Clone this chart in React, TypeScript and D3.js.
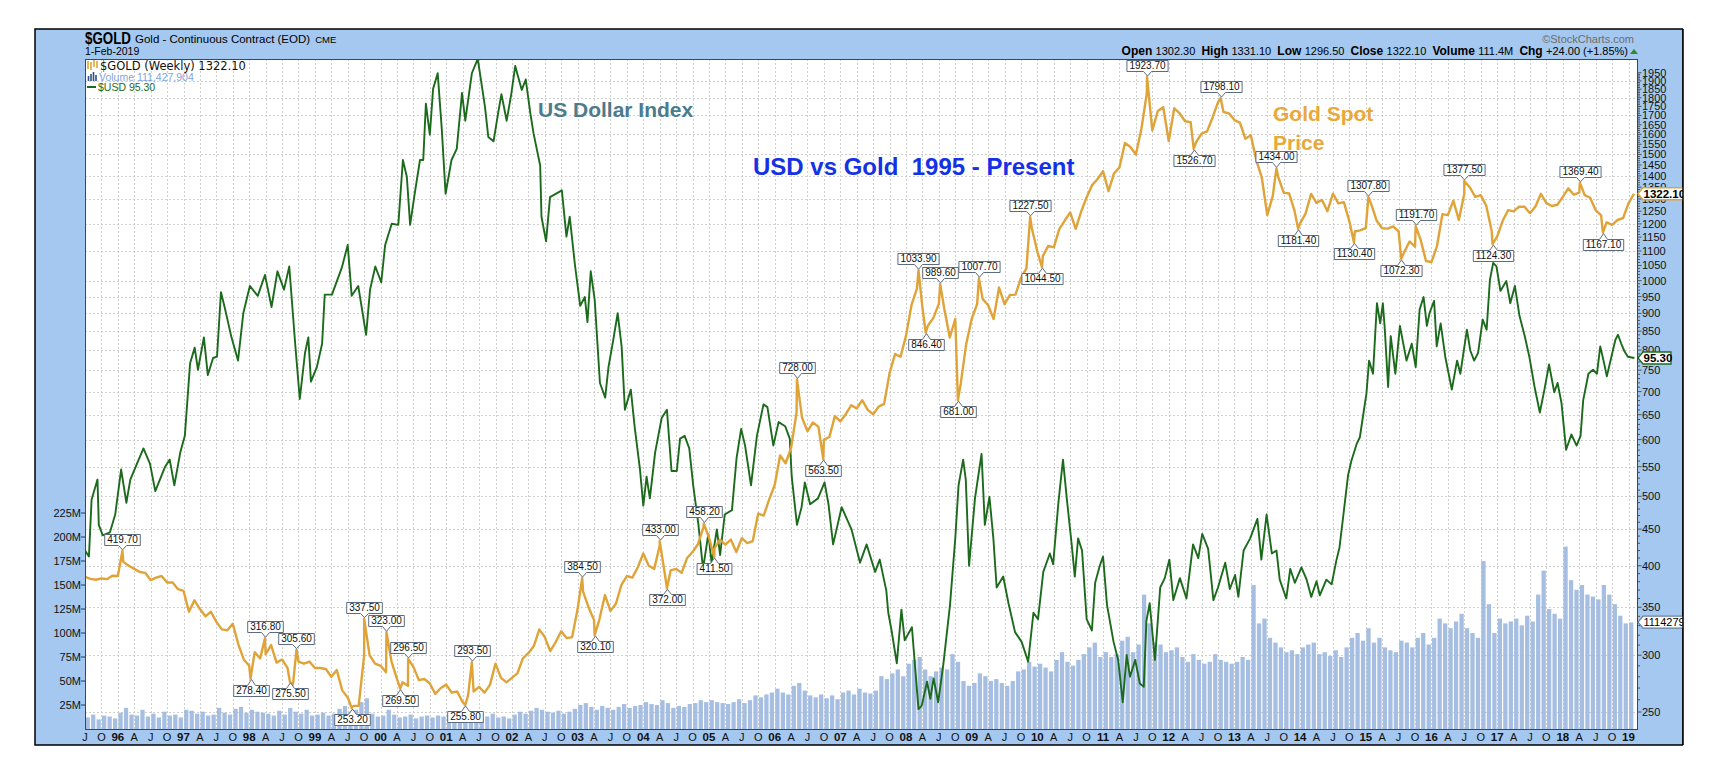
import React, { useEffect, useRef } from "react";
import * as d3 from "d3";

// gold levels at the start of each month, Jul 1995 .. Feb 2019
const goldStart = 1995.5;
const goldMonthly = [
  386, 383.4, 382.4, 384, 383.1, 387.4, 387,
  405, 400, 396, 392, 391, 382, 385, 387, 379, 379, 371, 369,
  345, 358, 348, 340, 345, 334, 326, 325, 332, 311, 296, 290,
  303, 297, 301, 310, 293, 296, 288, 273, 294, 292, 294, 288,
  288, 287, 280, 286, 268, 262, 255, 255, 300, 300, 292, 290,
  284, 294, 278, 275, 272, 289, 277, 278, 274, 265, 270, 273,
  266, 267, 258, 264, 267, 271, 266, 273, 292, 279, 275, 279,
  283, 297, 302, 309, 326, 318, 304, 313, 324, 317, 318, 348,
  368, 350, 336, 337, 364, 346, 354, 376, 387, 385, 398, 416,
  400, 396, 427, 387, 394, 396, 391, 410, 418, 429, 453, 438,
  423, 435, 428, 435, 418, 437, 430, 433, 473, 470, 495, 518,
  570, 556, 584, 654, 644, 616, 634, 625, 600, 605, 647, 636,
  651, 670, 663, 681, 660, 651, 667, 673, 743, 790, 783, 838,
  924, 975, 917, 865, 887, 928, 913, 833, 884, 718, 816, 884,
  928, 943, 924, 884, 978, 927, 955, 956, 1008, 1040, 1182, 1097,
  1082, 1118, 1113, 1180, 1213, 1245, 1181, 1248, 1307, 1359, 1386, 1421,
  1333, 1411, 1439, 1556, 1536, 1500, 1628, 1826, 1620, 1725, 1746, 1566,
  1740, 1711, 1669, 1664, 1560, 1604, 1615, 1688, 1773, 1719, 1712, 1675,
  1662, 1578, 1596, 1472, 1393, 1234, 1312, 1396, 1327, 1323, 1250, 1202,
  1240, 1321, 1284, 1296, 1250, 1322, 1282, 1287, 1210, 1171, 1175, 1184,
  1279, 1212, 1183, 1182, 1190, 1172, 1095, 1134, 1115, 1142, 1065, 1061,
  1116, 1238, 1234, 1293, 1215, 1322, 1350, 1309, 1316, 1273, 1174, 1152,
  1211, 1254, 1249, 1268, 1268, 1242, 1269, 1322, 1283, 1271, 1276, 1309,
  1345, 1318, 1327, 1316, 1305, 1254, 1233, 1206, 1196, 1215, 1222, 1282,
  1322.1,
];

// swing highs / lows tagged on the chart: [year, price, side]
const goldTags: [number, number, string][] = [
  [1996.07, 419.7, "up"], [1998.02, 278.4, "down"], [1998.24, 316.8, "up"],
  [1998.62, 275.5, "down"], [1998.72, 305.6, "up"], [1999.56, 253.2, "down"],
  [1999.75, 337.5, "up"], [2000.09, 323.0, "up"], [2000.3, 269.5, "down"],
  [2000.42, 296.5, "up"], [2001.29, 255.8, "down"], [2001.39, 293.5, "up"],
  [2003.07, 384.5, "up"], [2003.26, 320.1, "down"], [2004.25, 433.0, "up"],
  [2004.36, 372.0, "down"], [2004.92, 458.2, "up"], [2005.08, 411.5, "down"],
  [2006.34, 728.0, "up"], [2006.74, 563.5, "down"], [2008.19, 1033.9, "up"],
  [2008.3, 846.4, "down"], [2008.52, 989.6, "up"], [2008.79, 681.0, "down"],
  [2009.11, 1007.7, "up"], [2009.89, 1227.5, "up"], [2010.07, 1044.5, "down"],
  [2011.67, 1923.7, "up"], [2012.38, 1526.7, "down"], [2012.79, 1798.1, "up"],
  [2013.64, 1434.0, "up"], [2013.97, 1181.4, "down"], [2014.82, 1130.4, "down"],
  [2015.04, 1307.8, "up"], [2015.54, 1072.3, "down"], [2015.76, 1191.7, "up"],
  [2016.5, 1377.5, "up"], [2016.93, 1124.3, "down"], [2018.26, 1369.4, "up"],
  [2018.61, 1167.1, "down"],
];

// US dollar index: [year, value]
const usdSeries: [number, number][] = [
  [1995.5, 81.6], [1995.56, 81.2], [1995.6, 85.0], [1995.69, 86.4], [1995.71, 83.3], [1995.77, 82.6], [1995.88, 82.8], [1995.96, 84.0],
  [1996.05, 87.1], [1996.13, 84.8], [1996.19, 86.4], [1996.29, 87.5], [1996.39, 88.6], [1996.49, 87.5], [1996.57, 85.6], [1996.72, 87.3], [1996.79, 87.8], [1996.86, 86.0], [1996.95, 88.3],
  [1997.02, 89.5], [1997.1, 94.9], [1997.17, 96.1], [1997.22, 94.4], [1997.31, 96.9], [1997.37, 94.0], [1997.45, 95.3], [1997.51, 95.4], [1997.57, 100.5], [1997.63, 99.2], [1997.73, 96.9], [1997.83, 95.1], [1997.91, 98.8],
  [1998.01, 101.0], [1998.13, 100.2], [1998.24, 101.9], [1998.34, 99.3], [1998.43, 102.2], [1998.53, 100.7], [1998.61, 102.6], [1998.7, 96.4], [1998.77, 92.2], [1998.85, 95.7], [1998.9, 96.9], [1998.94, 93.5],
  [1999.03, 94.6], [1999.11, 96.4], [1999.15, 100.3], [1999.26, 100.3], [1999.41, 102.5], [1999.5, 104.4], [1999.56, 100.2], [1999.66, 101.0], [1999.78, 97.1], [1999.84, 100.7], [1999.92, 102.6],
  [2000.01, 101.3], [2000.07, 104.4], [2000.17, 106.2], [2000.27, 106.1], [2000.34, 111.8], [2000.4, 110.3], [2000.45, 106.1], [2000.52, 108.8], [2000.6, 111.8], [2000.65, 111.8], [2000.69, 117.0], [2000.75, 114.1], [2000.8, 118.4], [2000.87, 119.9], [2000.93, 114.8], [2000.99, 108.8],
  [2001.08, 111.8], [2001.16, 112.8], [2001.24, 118.0], [2001.29, 115.4], [2001.39, 119.9], [2001.48, 121.3], [2001.59, 116.7], [2001.64, 113.9], [2001.72, 113.5], [2001.79, 116.1], [2001.84, 117.9], [2001.92, 115.4], [2001.99, 117.9],
  [2002.05, 120.6], [2002.15, 118.3], [2002.21, 119.3], [2002.28, 116.1], [2002.33, 114.2], [2002.43, 111.3], [2002.45, 106.8], [2002.52, 104.7], [2002.58, 108.5], [2002.76, 109.1], [2002.83, 105.1], [2002.88, 106.8], [2002.96, 102.7],
  [2003.04, 99.4], [2003.11, 100.1], [2003.15, 98.1], [2003.2, 102.2], [2003.26, 99.9], [2003.34, 93.4], [2003.42, 92.3], [2003.47, 94.6], [2003.54, 96.6], [2003.61, 98.8], [2003.67, 96.2], [2003.72, 91.4], [2003.81, 92.9], [2003.87, 90.1], [2003.95, 87.1],
  [2004.0, 84.6], [2004.05, 86.6], [2004.1, 85.1], [2004.18, 88.3], [2004.28, 90.8], [2004.36, 91.4], [2004.43, 87.0], [2004.51, 87.0], [2004.56, 89.3], [2004.63, 89.5], [2004.7, 88.6], [2004.76, 86.0], [2004.84, 83.3], [2004.91, 80.4], [2004.99, 82.7],
  [2005.04, 80.8], [2005.12, 83.0], [2005.17, 81.3], [2005.24, 84.0], [2005.35, 84.3], [2005.42, 87.9], [2005.49, 90.0], [2005.55, 88.8], [2005.64, 86.0], [2005.73, 89.5], [2005.83, 91.8], [2005.89, 91.6], [2005.98, 88.8],
  [2006.06, 90.5], [2006.16, 90.2], [2006.23, 89.3], [2006.26, 86.6], [2006.34, 83.3], [2006.41, 84.5], [2006.46, 86.2], [2006.54, 84.7], [2006.66, 85.1], [2006.76, 86.2], [2006.82, 84.7], [2006.89, 82.0],
  [2007.02, 84.5], [2007.17, 83.0], [2007.3, 80.8], [2007.4, 82.0], [2007.53, 80.2], [2007.6, 81.0], [2007.7, 79.0], [2007.73, 77.6], [2007.78, 76.5], [2007.86, 74.5], [2007.93, 77.8], [2007.98, 75.9],
  [2008.09, 76.7], [2008.14, 74.2], [2008.19, 71.8], [2008.24, 72.0], [2008.32, 73.4], [2008.37, 72.4], [2008.42, 73.6], [2008.49, 72.2], [2008.57, 74.5], [2008.67, 78.1], [2008.75, 82.4], [2008.8, 86.0], [2008.87, 87.8], [2008.91, 86.4], [2008.96, 80.6],
  [2009.05, 85.1], [2009.15, 88.2], [2009.2, 83.3], [2009.27, 85.2], [2009.33, 82.4], [2009.38, 79.2], [2009.48, 79.9], [2009.56, 78.2], [2009.66, 76.4], [2009.76, 75.8], [2009.86, 74.6], [2009.94, 77.6],
  [2010.01, 77.2], [2010.09, 80.2], [2010.19, 81.4], [2010.24, 80.7], [2010.32, 84.8], [2010.39, 87.8], [2010.45, 85.0], [2010.52, 82.1], [2010.57, 79.9], [2010.62, 82.4], [2010.68, 81.6], [2010.75, 77.2], [2010.83, 76.5], [2010.88, 79.5], [2010.95, 80.6],
  [2011.0, 81.2], [2011.06, 78.1], [2011.16, 75.8], [2011.23, 74.7], [2011.3, 72.2], [2011.36, 75.0], [2011.41, 73.7], [2011.49, 74.7], [2011.56, 73.3], [2011.62, 73.1], [2011.66, 77.1], [2011.71, 78.2], [2011.79, 74.7], [2011.87, 79.2], [2011.94, 79.8],
  [2012.01, 81.0], [2012.07, 78.4], [2012.17, 79.8], [2012.27, 78.5], [2012.37, 82.0], [2012.45, 81.1], [2012.51, 82.7], [2012.6, 81.7], [2012.68, 78.4], [2012.75, 79.2], [2012.86, 80.8], [2012.93, 79.1],
  [2013.01, 80.0], [2013.06, 78.6], [2013.14, 81.6], [2013.24, 82.4], [2013.35, 83.7], [2013.41, 81.0], [2013.49, 84.0], [2013.57, 81.4], [2013.64, 81.6], [2013.69, 79.7], [2013.79, 78.5], [2013.85, 80.4], [2013.92, 79.5],
  [2014.02, 80.5], [2014.1, 79.7], [2014.17, 78.6], [2014.25, 79.6], [2014.3, 78.7], [2014.4, 79.7], [2014.48, 79.4], [2014.55, 80.9], [2014.6, 81.8], [2014.66, 84.0], [2014.73, 86.7], [2014.78, 87.7], [2014.86, 88.9], [2014.91, 89.4], [2014.96, 91.0],
  [2015.01, 92.6], [2015.05, 95.1], [2015.11, 94.1], [2015.17, 99.6], [2015.22, 98.0], [2015.26, 99.6], [2015.29, 97.5], [2015.34, 93.1], [2015.38, 97.0], [2015.45, 94.1], [2015.52, 97.8], [2015.62, 95.1], [2015.7, 96.4], [2015.76, 94.6], [2015.82, 99.1], [2015.88, 100.1], [2015.93, 97.8], [2015.97, 98.8],
  [2016.04, 99.8], [2016.08, 96.2], [2016.14, 98.0], [2016.21, 95.4], [2016.31, 92.9], [2016.39, 95.1], [2016.44, 94.1], [2016.54, 97.5], [2016.59, 95.9], [2016.65, 95.1], [2016.71, 95.7], [2016.78, 98.3], [2016.84, 97.5], [2016.89, 101.5], [2016.94, 102.9], [2016.99, 102.6],
  [2017.05, 100.6], [2017.14, 101.4], [2017.2, 99.6], [2017.27, 101.0], [2017.34, 98.6], [2017.42, 97.0], [2017.49, 95.4], [2017.57, 93.1], [2017.65, 91.2], [2017.72, 92.9], [2017.79, 94.8], [2017.87, 92.7], [2017.92, 93.4], [2017.98, 91.9],
  [2018.05, 88.5], [2018.13, 89.6], [2018.21, 88.8], [2018.27, 89.5], [2018.31, 92.1], [2018.39, 94.1], [2018.46, 94.4], [2018.52, 94.1], [2018.57, 96.2], [2018.62, 95.1], [2018.67, 93.9], [2018.74, 95.4], [2018.8, 96.7], [2018.84, 97.1], [2018.89, 96.4], [2018.94, 95.8], [2018.99, 95.4],
  [2019.09, 95.3],
];

// typical weekly volume per month (millions), Jul 1995 .. Jan 2019
const volumeMonthly = [
  12, 15, 10, 14, 13, 11,
  17, 22, 15, 14, 20, 13, 16, 12, 18, 14, 15, 12,
  20, 19, 16, 18, 14, 15, 22, 17, 15, 21, 23, 17,
  20, 18, 17, 16, 14, 19, 15, 22, 18, 16, 20, 14,
  15, 17, 14, 16, 21, 24, 18, 20, 28, 32, 16, 13,
  14, 20, 15, 12, 13, 15, 11, 13, 14, 12, 14, 13,
  16, 14, 13, 12, 17, 12, 11, 13, 16, 12, 13, 11,
  15, 18, 16, 19, 22, 20, 18, 17, 19, 16, 18, 21,
  25, 27, 23, 20, 24, 22, 20, 23, 26, 22, 24, 25,
  28, 26, 25, 30, 27, 22, 24, 23, 26, 27, 30, 28,
  30, 28, 27, 26, 28, 31, 27, 30, 35, 33, 36, 38,
  42, 38, 36, 45, 48, 40, 35, 33, 36, 32, 35, 31,
  38, 40, 36, 42, 38, 37, 40, 55, 52, 58, 62, 55,
  68, 72, 75, 62, 55, 60, 64, 62, 78, 70, 50, 45,
  48, 58, 55, 50, 52, 48, 45, 50, 60, 62, 70, 65,
  68, 64, 60, 72, 80, 70, 66, 72, 78, 85, 90, 75,
  80, 75, 78, 92, 96, 80, 88, 140, 110, 90, 88, 80,
  82, 85, 75, 70, 78, 72, 68, 70, 78, 72, 70, 68,
  70, 75, 72, 150, 110, 115, 95, 90, 85, 80, 82, 78,
  85, 88, 90, 78, 80, 76, 82, 75, 85, 95, 100, 92,
  105, 90, 95, 85, 82, 80, 92, 90, 85, 95, 100, 88,
  95, 115, 110, 105, 112, 120, 105, 100, 95, 175, 130, 100,
  115, 110, 112, 115, 108, 118, 112, 140, 165, 125, 120, 115,
  190, 155, 145, 150, 140, 138, 135, 150, 140, 130, 118, 110,
  111,
];

const priceTicks = [
  250, 300, 350, 400, 450, 500, 550, 600, 650, 700, 750, 800, 850, 900, 950, 1000,
  1050, 1100, 1150, 1200, 1250, 1300, 1350, 1400, 1450, 1500, 1550, 1600, 1650,
  1700, 1750, 1800, 1850, 1900, 1950,
];
const priceGrid = [
  250, 300, 350, 400, 450, 500, 550, 600, 650, 700, 750, 800, 850, 900, 950, 1000,
  1100, 1200, 1300, 1400, 1500, 1600, 1700, 1800, 1900,
];
const volumeTicks = [25, 50, 75, 100, 125, 150, 175, 200, 225];
const yearLabels = [
  "96", "97", "98", "99", "00", "01", "02", "03", "04", "05", "06", "07",
  "08", "09", "10", "11", "12", "13", "14", "15", "16", "17", "18", "19",
];
const quarterLetters = ["", "A", "J", "O"];

const W = 1722;
const H = 774;
const FONT = "'Liberation Sans', Arial, sans-serif";
const GOLD = "#DFA338";
const GREEN = "#1C6B1C";
const BLUE_BG = "#A4C8F0";

const plot = { l: 85, t: 59, r: 1638, b: 729 };

function draw(svgEl: SVGSVGElement) {
  const svg = d3.select(svgEl);
  svg.selectAll("*").remove();

  const x = d3.scaleLinear().domain([1995.5, 2019.0]).range([85, 1628.5]);
  const yGold = d3.scaleLog().domain([250, 1950]).range([712, 72.8]);
  const yUsd = d3
    .scaleLog()
    .domain([70, 122])
    .range([358 + 1240 * Math.log(95.3 / 70), 358 - 1240 * Math.log(122 / 95.3)]);
  const yVol = d3.scaleLinear().domain([0, 225]).range([729, 513]);

  // outer frame
  svg
    .append("rect")
    .attr("x", 35)
    .attr("y", 29)
    .attr("width", 1648)
    .attr("height", 716)
    .attr("fill", BLUE_BG)
    .attr("stroke", "#000")
    .attr("stroke-width", 1.5);

  svg
    .append("rect")
    .attr("x", plot.l)
    .attr("y", plot.t)
    .attr("width", plot.r - plot.l)
    .attr("height", plot.b - plot.t)
    .attr("fill", "#fff");

  svg
    .append("clipPath")
    .attr("id", "plotclip")
    .append("rect")
    .attr("x", plot.l)
    .attr("y", plot.t)
    .attr("width", plot.r - plot.l)
    .attr("height", plot.b - plot.t);

  // grid
  const grid = svg.append("g").attr("stroke", "#cfcfcf").attr("stroke-dasharray", "2,2");
  priceGrid.forEach((v) => {
    grid
      .append("line")
      .attr("x1", plot.l)
      .attr("x2", plot.r)
      .attr("y1", Math.round(yGold(v)) + 0.5)
      .attr("y2", Math.round(yGold(v)) + 0.5);
  });
  const quarters = d3.range(0, 95).map((i) => 1995.5 + i * 0.25);
  quarters.forEach((t) => {
    grid
      .append("line")
      .attr("x1", Math.round(x(t)) + 0.5)
      .attr("x2", Math.round(x(t)) + 0.5)
      .attr("y1", plot.t)
      .attr("y2", plot.b);
  });

  const inner = svg.append("g").attr("clip-path", "url(#plotclip)");

  // volume bars
  const bw = x(goldStart + 1 / 12) - x(goldStart);
  inner
    .append("g")
    .selectAll("rect")
    .data(volumeMonthly)
    .join("rect")
    .attr("x", (_d, i) => x(goldStart + i / 12) + 0.6)
    .attr("y", (d) => yVol(d))
    .attr("width", bw - 1.2)
    .attr("height", (d) => yVol(0) - yVol(d))
    .attr("fill", "#9DB9E0")
    .attr("opacity", 0.92);

  // usd line
  const usdLine = d3
    .line<[number, number]>()
    .x((d) => x(d[0]))
    .y((d) => yUsd(d[1]));
  inner
    .append("path")
    .datum(usdSeries)
    .attr("fill", "none")
    .attr("stroke", GREEN)
    .attr("stroke-width", 1.9)
    .attr("stroke-linejoin", "round")
    .attr("d", usdLine);

  // gold line: monthly levels plus the tagged swing points
  const goldPts: [number, number][] = goldMonthly.map((v, i) => [goldStart + i / 12, v]);
  goldTags.forEach((t) => goldPts.push([t[0], t[1]]));
  goldPts.sort((a, b) => a[0] - b[0]);
  const goldLine = d3
    .line<[number, number]>()
    .x((d) => x(d[0]))
    .y((d) => yGold(d[1]));
  inner
    .append("path")
    .datum(goldPts)
    .attr("fill", "none")
    .attr("stroke", GOLD)
    .attr("stroke-width", 2.4)
    .attr("stroke-linejoin", "round")
    .attr("d", goldLine);

  // price tags
  const tags = svg.append("g");
  goldTags.forEach(([t, v, side]) => {
    const px = Math.round(x(t)) + 0.5;
    const py = yGold(v);
    const g = tags.append("g");
    const txt = g
      .append("text")
      .text(v.toFixed(2))
      .attr("font-family", FONT)
      .attr("font-size", 10)
      .attr("fill", "#111")
      .attr("text-anchor", "middle")
      .attr("x", px);
    const tw = (txt.node() as SVGTextElement).getComputedTextLength();
    const half = tw / 2 + 2.5;
    const l = px - half;
    const r = px + half;
    let d = "";
    if (side === "up") {
      const tip = py - 1;
      const bot = Math.round(py - 6) + 0.5;
      const top = bot - 11;
      d = `M${l},${top}H${r}V${bot}H${px + 4}L${px},${tip}L${px - 4},${bot}H${l}Z`;
      txt.attr("y", bot - 2.2);
    } else {
      const tip = py + 1;
      const top = Math.round(py + 6) + 0.5;
      const bot = top + 11;
      d = `M${l},${top}H${px - 4}L${px},${tip}L${px + 4},${top}H${r}V${bot}H${l}Z`;
      txt.attr("y", bot - 2.2);
    }
    g.insert("path", "text")
      .attr("d", d)
      .attr("fill", "#fff")
      .attr("stroke", "#5d6b80")
      .attr("stroke-width", 1);
  });

  // plot border
  svg
    .append("rect")
    .attr("x", plot.l + 0.5)
    .attr("y", plot.t + 0.5)
    .attr("width", plot.r - plot.l - 1)
    .attr("height", plot.b - plot.t)
    .attr("fill", "none")
    .attr("stroke", "#3e4656")
    .attr("stroke-width", 1);

  // right price axis
  const ax = svg.append("g").attr("font-family", FONT).attr("font-size", 11).attr("fill", "#111");
  d3.range(250, 1960, 10).forEach((v) => {
    ax.append("line")
      .attr("x1", plot.r)
      .attr("x2", plot.r + (v % 50 === 0 ? 3.5 : 2))
      .attr("y1", yGold(v))
      .attr("y2", yGold(v))
      .attr("stroke", "#333")
      .attr("stroke-width", 0.8);
  });
  priceTicks.forEach((v) => {
    ax.append("text").attr("x", plot.r + 4).attr("y", yGold(v) + 4).text(String(v));
  });

  // left volume axis
  volumeTicks.forEach((v) => {
    ax.append("text")
      .attr("x", 81)
      .attr("y", yVol(v) + 4)
      .attr("text-anchor", "end")
      .text(`${v}M`);
    ax.append("line")
      .attr("x1", 81)
      .attr("x2", plot.l)
      .attr("y1", yVol(v))
      .attr("y2", yVol(v))
      .attr("stroke", "#333");
  });

  // bottom time axis
  quarters.forEach((t) => {
    const q = Math.round((t % 1) * 4);
    const yr = Math.floor(t + 1e-6);
    const label = q === 0 ? yearLabels[yr - 1996] : quarterLetters[q];
    if (!label) return;
    ax.append("text")
      .attr("x", x(t))
      .attr("y", 741)
      .attr("text-anchor", "middle")
      .attr("font-weight", q === 0 ? "bold" : "normal")
      .attr("font-size", q === 0 ? 11.5 : 11)
      .text(label);
  });

  // last-value boxes on the right axis
  const valueBox = (yc: number, label: string, color: string, right: number, bold: boolean) => {
    const g = svg.append("g");
    g.append("path")
      .attr("d", `M${plot.r},${yc}L${plot.r + 5},${yc - 6}H${right}V${yc + 6}H${plot.r + 5}Z`)
      .attr("fill", "#fff")
      .attr("stroke", color)
      .attr("stroke-width", 1.3);
    g.append("text")
      .attr("x", plot.r + 5.5)
      .attr("y", yc + 4)
      .attr("font-family", FONT)
      .attr("font-size", bold ? 11.5 : 11)
      .attr("font-weight", bold ? "bold" : "normal")
      .attr("fill", "#000")
      .text(label);
  };
  valueBox(yVol(111.4), "111427904", "#6a7f9a", 1690, false);
  valueBox(yUsd(95.3), "95.30", GREEN, 1671, true);
  valueBox(yGold(1322.1), "1322.10", GOLD, 1690, true);
  svg
    .append("rect")
    .attr("x", 1683)
    .attr("y", 25)
    .attr("width", 20)
    .attr("height", 724)
    .attr("fill", "#fff");
  svg
    .append("line")
    .attr("x1", 1683)
    .attr("x2", 1683)
    .attr("y1", 29)
    .attr("y2", 745)
    .attr("stroke", "#000")
    .attr("stroke-width", 1.5);

  // header
  const hdr = svg.append("g").attr("font-family", FONT).attr("fill", "#000");
  hdr.append("text")
    .attr("x", 85)
    .attr("y", 44)
    .attr("font-size", 16)
    .attr("font-weight", "bold")
    .attr("textLength", 46)
    .attr("lengthAdjust", "spacingAndGlyphs")
    .text("$GOLD");
  const sub = hdr
    .append("text")
    .attr("x", 135)
    .attr("y", 43)
    .attr("font-size", 11.5)
    .text("Gold - Continuous Contract (EOD)");
  const subW = (sub.node() as SVGTextElement).getComputedTextLength();
  hdr.append("text").attr("x", 135 + subW + 5).attr("y", 43).attr("font-size", 9.5).text("CME");
  hdr.append("text").attr("x", 85).attr("y", 55).attr("font-size", 10.5).text("1-Feb-2019");
  hdr.append("text")
    .attr("x", 1634)
    .attr("y", 43)
    .attr("text-anchor", "end")
    .attr("font-size", 11)
    .attr("fill", "#6d6d6d")
    .text("\u00a9StockCharts.com");

  const ohlc = hdr.append("text").attr("x", 1628).attr("y", 55).attr("text-anchor", "end").attr("font-size", 11);
  const parts: [string, boolean][] = [
    ["Open ", true], ["1302.30  ", false], ["High ", true], ["1331.10  ", false],
    ["Low ", true], ["1296.50  ", false], ["Close ", true], ["1322.10  ", false],
    ["Volume ", true], ["111.4M  ", false], ["Chg ", true], ["+24.00 (+1.85%)", false],
  ];
  ohlc.attr("xml:space", "preserve").style("white-space", "pre");
  parts.forEach(([s, b]) => {
    ohlc.append("tspan")
      .attr("font-weight", b ? "bold" : "normal")
      .attr("font-size", b ? 12 : 11)
      .text(s);
  });
  hdr.append("path").attr("d", "M1630,54L1634,49L1638,54Z").attr("fill", "#2e8b2e");

  // legend
  const lg = svg.append("g").attr("font-size", 11);
  lg.append("path")
    .attr("d", "M88,61V69M91,62V70M94,60V67M97,61V68")
    .attr("stroke", GOLD)
    .attr("stroke-width", 1.6);
  lg.append("text")
    .attr("x", 100)
    .attr("y", 70)
    .attr("font-family", "'DejaVu Sans', sans-serif")
    .attr("font-size", 11.5)
    .attr("fill", "#111")
    .text("$GOLD (Weekly) 1322.10");
  lg.append("path")
    .attr("d", "M88.5,81V76M91,81V74M93.5,81V72M96,81V75")
    .attr("stroke", "#2f4f86")
    .attr("stroke-width", 1.6);
  lg.append("text")
    .attr("x", 99)
    .attr("y", 81)
    .attr("font-family", FONT)
    .attr("font-size", 10.5)
    .attr("fill", "#7fa6e0")
    .text("Volume 111,427,904");
  lg.append("line").attr("x1", 87).attr("x2", 96).attr("y1", 87).attr("y2", 87).attr("stroke", GREEN).attr("stroke-width", 2);
  lg.append("text")
    .attr("x", 98)
    .attr("y", 91)
    .attr("font-family", FONT)
    .attr("font-size", 10.5)
    .attr("fill", GREEN)
    .text("$USD 95.30");

  // annotations
  const ann = svg.append("g").attr("font-family", FONT).attr("font-weight", "bold");
  ann.append("text").attr("x", 538).attr("y", 117).attr("font-size", 21).attr("fill", "#4c7b8c").text("US Dollar Index");
  ann.append("text")
    .attr("x", 753)
    .attr("y", 175)
    .attr("font-size", 24)
    .attr("fill", "#1531e6")
    .style("white-space", "pre")
    .text("USD vs Gold  1995 - Present");
  ann.append("text").attr("x", 1273).attr("y", 121).attr("font-size", 21).attr("fill", "#E9A83A").text("Gold Spot");
  ann.append("text").attr("x", 1273).attr("y", 150).attr("font-size", 21).attr("fill", "#E9A83A").text("Price");
}

export default function App() {
  const ref = useRef<SVGSVGElement>(null);
  useEffect(() => {
    if (ref.current) draw(ref.current);
  }, []);
  return (
    <svg
      ref={ref}
      width={W}
      height={H}
      style={{ position: "absolute", left: 0, top: 0, background: "#fff", display: "block" }}
    />
  );
}
